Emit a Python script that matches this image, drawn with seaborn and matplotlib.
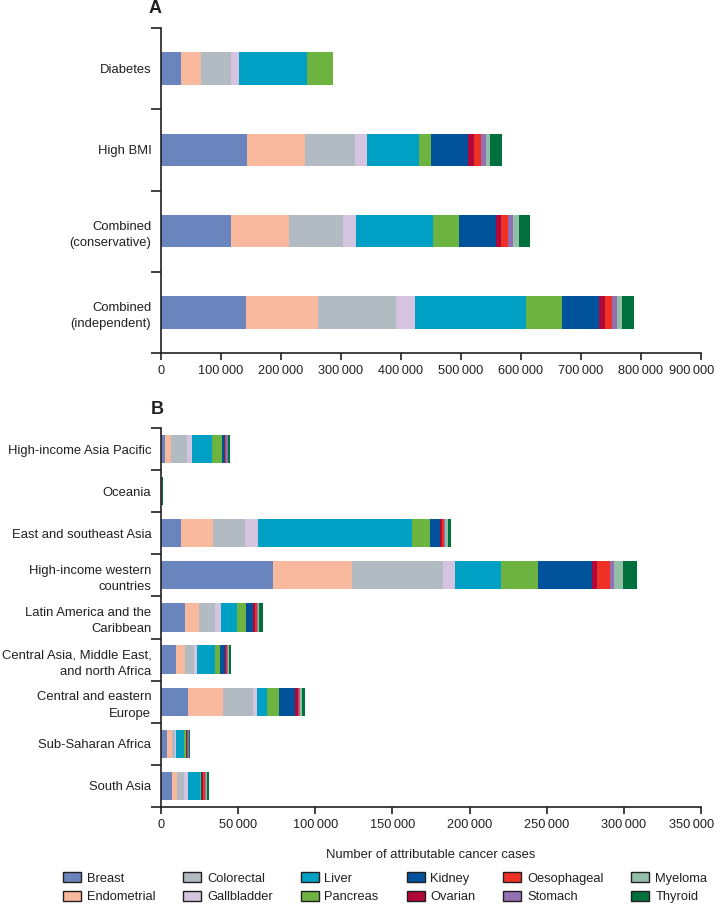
import matplotlib
matplotlib.use("Agg")
import matplotlib.pyplot as plt
import matplotlib.ticker as mticker
import matplotlib.transforms as mtransforms
from matplotlib.patches import Patch
import numpy as np
import seaborn as sns

# Cancer sites (stacking order) and colours
cancers = ["Breast", "Endometrial", "Colorectal", "Gallbladder", "Liver", "Pancreas",
           "Kidney", "Ovarian", "Oesophageal", "Stomach", "Myeloma", "Thyroid"]
colours = ["#6A84BD", "#F9B99E", "#B2BBC1", "#D4C4E0", "#00A0C4", "#6DB33F",
           "#00539B", "#B0083A", "#EE3124", "#9470B2", "#93BFA8", "#00703C"]

# Panel A: risk factor
factors = ["Diabetes", "High BMI", "Combined\n(conservative)", "Combined\n(independent)"]
diabetes = [33000, 33000, 51000, 13000, 114000, 43000, 0, 0, 0, 0, 0, 0]
high_bmi = [144000, 96000, 83000, 20000, 87000, 20000, 62000, 9500, 11700, 8800, 6700, 19000]
combined_cons = [117000, 96000, 90000, 22000, 128000, 44000, 61000, 9000, 11000, 9000, 9000, 19500]
combined_ind = [142000, 120000, 130000, 32000, 184000, 60000, 62000, 9500, 11700, 8800, 9000, 19300]

# Panel B: world region
regions = ["High-income Asia Pacific", "Oceania", "East and southeast Asia",
           "High-income western\ncountries", "Latin America and the\nCaribbean",
           "Central Asia, Middle East,\nand north Africa", "Central and eastern\nEurope",
           "Sub-Saharan Africa", "South Asia"]
hi_asia_pacific = [2800, 3500, 10400, 3200, 13200, 6500, 1700, 400, 600, 800, 600, 800]
oceania = [100, 50, 50, 10, 20, 20, 30, 10, 10, 10, 10, 900]
east_se_asia = [13000, 21000, 20500, 8600, 99700, 11900, 6000, 1600, 900, 1100, 1700, 2200]
hi_western = [72400, 51700, 58400, 8400, 29400, 24000, 35000, 3500, 8000, 2600, 6000, 8900]
latin_america = [15800, 8600, 10400, 3900, 10600, 5800, 4700, 900, 1300, 700, 600, 2800]
central_asia_mena = [9700, 6000, 6000, 1700, 11900, 2900, 3000, 900, 700, 700, 600, 1500]
central_east_europe = [17700, 22200, 19500, 2600, 6900, 7800, 10400, 1500, 900, 600, 1300, 1700]
sub_saharan = [3600, 3500, 1900, 600, 5200, 1300, 600, 300, 800, 200, 300, 800]
south_asia = [7100, 3400, 4300, 2800, 7600, 800, 600, 500, 1300, 900, 300, 1300]

panel_a = [diabetes, high_bmi, combined_cons, combined_ind]
panel_b = [hi_asia_pacific, oceania, east_se_asia, hi_western, latin_america,
           central_asia_mena, central_east_europe, sub_saharan, south_asia]

sns.set_style("ticks")
plt.rcParams["font.family"] = ["Liberation Sans", "DejaVu Sans"]
plt.rcParams["axes.linewidth"] = 1.2
plt.rcParams["text.color"] = "#231F20"
plt.rcParams["xtick.color"] = "#231F20"
plt.rcParams["ytick.color"] = "#231F20"
plt.rcParams["axes.edgecolor"] = "#231F20"
plt.rcParams["axes.labelcolor"] = "#231F20"


def thousands(v):
    return f"{int(v):,}".replace(",", "\u2009")


def draw_stacked(ax, labels, rows, bar_width, xmax, step):
    cum = np.cumsum(np.array(rows, dtype=float), axis=1)
    # overlay cumulative totals from the outermost segment inwards
    for i in reversed(range(len(cancers))):
        sns.barplot(x=cum[:, i], y=labels, order=labels, color=colours[i], orient="h",
                    width=bar_width, saturation=1, linewidth=0, errorbar=None, ax=ax)
    n = len(labels)
    ax.set_ylim(n - 0.5, -0.5)
    ax.set_yticks(np.arange(-0.5, n), minor=True)
    ax.tick_params(axis="y", which="major", length=0, pad=7, labelsize=9.4)
    ax.tick_params(axis="y", which="minor", length=7, width=1.2)
    ax.tick_params(axis="x", which="major", length=5, width=1.2, labelsize=9.2)
    for t in ax.get_yticklabels():
        t.set_linespacing(1.5)
    ax.set_xlim(0, xmax)
    xt = list(range(0, xmax + 1, step))
    ax.set_xticks(xt, [thousands(v) for v in xt])
    # keep the last label inside the figure edge
    last = ax.get_xticklabels()[-1]
    last.set_horizontalalignment("right")
    last.set_transform(last.get_transform() +
                       mtransforms.ScaledTranslation(13.5 / 100, 0, fig.dpi_scale_trans))
    ax.set_ylabel("")
    ax.set_xlabel("")
    sns.despine(ax=ax)


fig = plt.figure(figsize=(7.16, 9.05), dpi=100)
ax_a = fig.add_axes([0.2249, 0.6099, 0.754, 0.3591])
ax_b = fig.add_axes([0.2249, 0.1083, 0.754, 0.4188])

draw_stacked(ax_a, factors, panel_a, 0.4, 900000, 100000)
draw_stacked(ax_b, regions, panel_b, 0.67, 350000, 50000)
ax_b.set_xlabel("Number of attributable cancer cases", fontsize=9.4, labelpad=13)

fig.text(0.216, 0.991, "A", fontsize=13, fontweight="bold", ha="center", va="center")
fig.text(0.219, 0.547, "B", fontsize=13, fontweight="bold", ha="center", va="center")

handles = [Patch(facecolor=c, edgecolor="#231F20", linewidth=1.0, label=name)
           for name, c in zip(cancers, colours)]
fig.legend(handles=handles, loc="lower left", bbox_to_anchor=(63 / 716, 0.002), ncol=6,
           frameon=False, fontsize=9.3, handlelength=1.4, handleheight=0.83,
           handletextpad=0.45, columnspacing=2.15, labelspacing=0.45,
           borderpad=0, borderaxespad=0)

fig.savefig("out.png", dpi=100)
